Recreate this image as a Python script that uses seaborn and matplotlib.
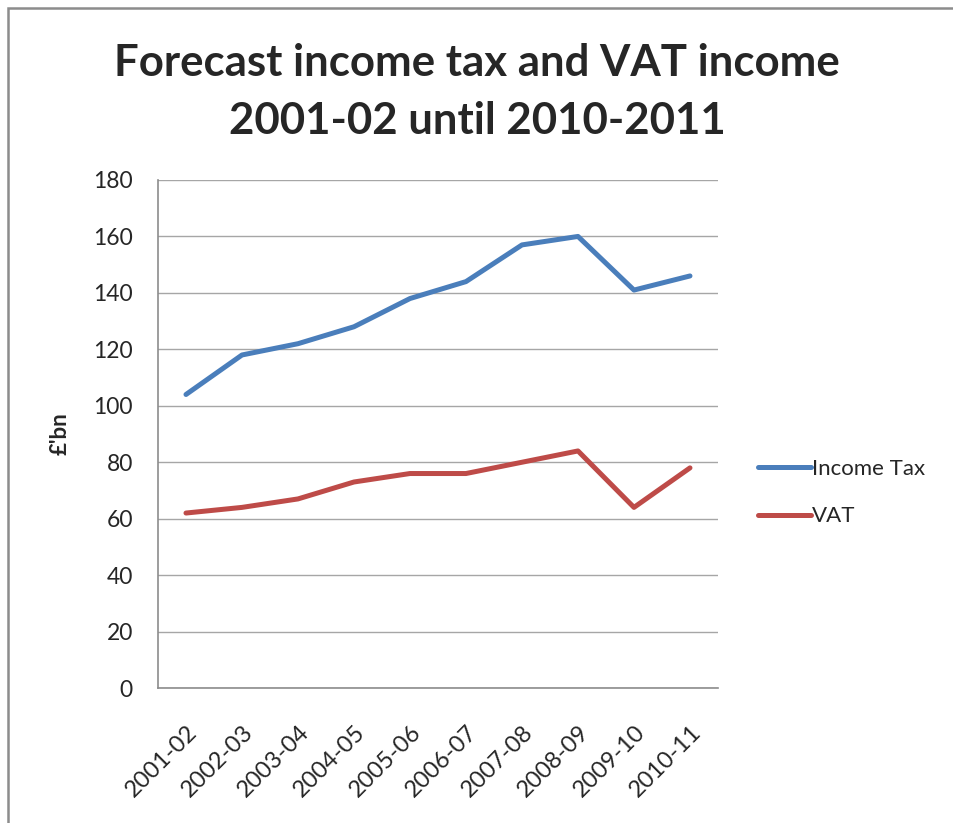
import matplotlib
matplotlib.use("Agg")
import matplotlib.pyplot as plt
import matplotlib.patches as mpatches
import pandas as pd
import seaborn as sns

years = ["2001-02", "2002-03", "2003-04", "2004-05", "2005-06",
         "2006-07", "2007-08", "2008-09", "2009-10", "2010-11"]
income_tax = [104, 118, 122, 128, 138, 144, 157, 160, 141, 146]
vat = [62, 64, 67, 73, 76, 76, 80, 84, 64, 78]
series_names = ["Income Tax", "VAT"]
y_ticks = [0, 20, 40, 60, 80, 100, 120, 140, 160, 180]

df = pd.DataFrame({
    "year": years * 2,
    "value": income_tax + vat,
    "series": [series_names[0]] * len(years) + [series_names[1]] * len(years),
})

sns.set_theme(style="white")
plt.rcParams["font.family"] = ["Lato", "DejaVu Sans"]

fig = plt.figure(figsize=(9.54, 8.23), dpi=100)
ax = fig.add_axes([0.1656, 0.164, 0.587, 0.6173])

sns.lineplot(data=df, x="year", y="value", hue="series", sort=False,
             palette={"Income Tax": "#4a7ebb", "VAT": "#be4b48"},
             linewidth=3.6, ax=ax, legend=True)

ax.set_xlim(-0.5, len(years) - 0.5)
ax.set_ylim(0, 180)
ax.set_yticks(y_ticks)
ax.set_xticks(range(len(years)))
ax.set_xticklabels(years, rotation=45, ha="right", rotation_mode="anchor",
                   fontsize=17, color="#262626")
ax.tick_params(axis="y", labelsize=16.5, length=0, pad=18,
               labelcolor="#262626")
ax.tick_params(axis="x", length=0, pad=24)
ax.grid(axis="y", color="#a6a6a6", linewidth=1)
ax.set_axisbelow(True)
for side in ["top", "right"]:
    ax.spines[side].set_visible(False)
for side in ["left", "bottom"]:
    ax.spines[side].set_color("#8c8c8c")
    ax.spines[side].set_linewidth(1.2)

ax.set_xlabel("")
ax.set_ylabel("£'bn", fontsize=16, fontweight="bold", labelpad=16)

handles, labels = ax.get_legend_handles_labels()
ax.legend(handles, labels, loc="center left", bbox_to_anchor=(1.055, 0.385),
          frameon=False, fontsize=16, handlelength=2.4, handletextpad=0.05,
          labelspacing=1.25, borderaxespad=0)

fig.text(0.5, 0.924, "Forecast income tax and VAT income",
         ha="center", va="center", fontsize=31.5, fontweight="bold")
fig.text(0.5, 0.853, "2001-02 until 2010-2011",
         ha="center", va="center", fontsize=31.5, fontweight="bold")

# chart frame around the whole drawing area
frame = mpatches.Rectangle((8 / 954, -0.05), 1.2, 1 - 8 / 823 + 0.05,
                           transform=fig.transFigure, fill=False,
                           edgecolor="#8c8c8c", linewidth=1.8)
fig.patches.append(frame)

fig.savefig("out.png", dpi=100)
